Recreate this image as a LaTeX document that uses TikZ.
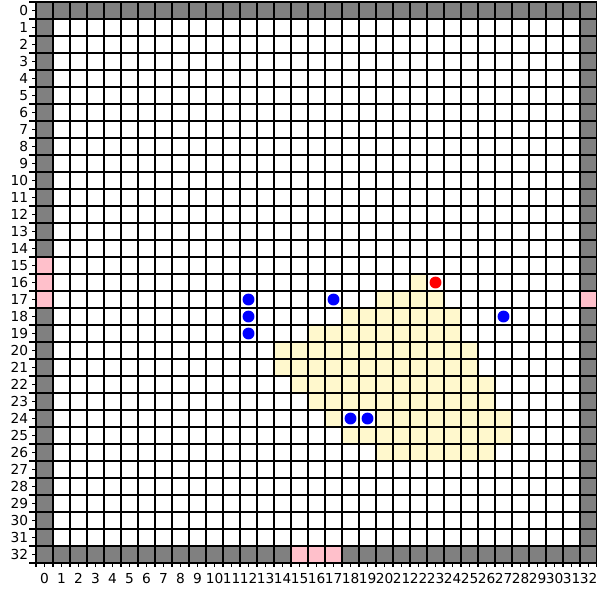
\documentclass[tikz,border=0pt]{standalone}
\usepackage{fontspec}
\setmainfont{DejaVu Sans}
\usepackage{tikz}
\usetikzlibrary{calc}
\definecolor{wallgray}{HTML}{808080}
\definecolor{doorpink}{HTML}{FFC0CB}
\definecolor{zoneyellow}{HTML}{FFF8CD}
\definecolor{agentblue}{HTML}{0000FF}
\definecolor{goalred}{HTML}{FF0000}

\begin{document}
\begin{tikzpicture}[x=0.5cm,y=-0.5cm,
  gridline/.style={black,line width=1.1pt},
  ticklabel/.style={font=\fontsize{11.5}{13}\selectfont,inner sep=0pt}]
\useasboundingbox (-2.118,-0.118) rectangle (33,34.588);
% yellow zone, row/first/last column
\foreach \r/\a/\b in {16/22/22,17/20/23,18/18/24,19/16/24,20/14/25,21/14/25,
  22/15/26,23/16/26,24/17/17,24/20/27,25/18/27,26/20/26}
  \foreach \c in {\a,...,\b} \fill[zoneyellow] (\c,\r) rectangle ++(1,1);
% walls
\fill[wallgray] (0,0) rectangle (33,1);
\fill[wallgray] (0,32) rectangle (33,33);
\fill[wallgray] (0,0) rectangle (1,33);
\fill[wallgray] (32,0) rectangle (33,33);
% openings
\fill[doorpink] (0,15) rectangle (1,18);
\fill[doorpink] (32,17) rectangle (33,18);
\fill[doorpink] (15,32) rectangle (18,33);
% grid and ticks
\foreach \i in {0,...,33} {
  \draw[gridline] (\i,0) -- (\i,33.25);
  \draw[gridline] (-0.4,\i) -- (33,\i);
}
\foreach \i in {0,...,32} {
  \draw[gridline] (\i+0.5,33) -- ++(0,0.22);
  \draw[gridline] (0,\i+0.5) -- ++(-0.25,0);
  \node[ticklabel,anchor=east] (row\i) at (-0.45,\i+0.5) {\i};
  \node[ticklabel,anchor=north] (col\i) at (\i+0.5,33.6) {\i};
}
% agents and goal
\foreach \c/\r in {12/17,12/18,12/19,17/17,27/18,18/24,19/24}
  \fill[agentblue] (\c+0.5,\r+0.5) circle (0.35);
\fill[goalred] (23.5,16.5) circle (0.35);
\end{tikzpicture}
\end{document}
